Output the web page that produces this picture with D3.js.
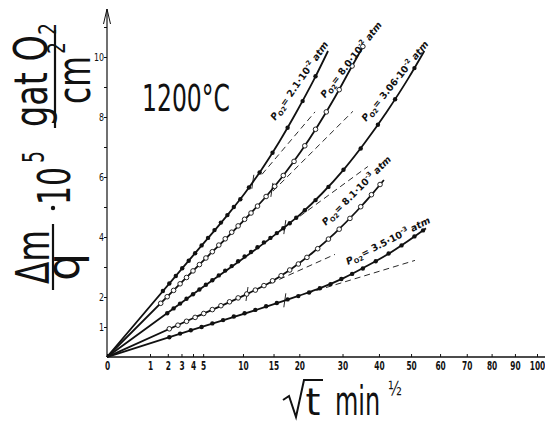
<!DOCTYPE html>
<html>
<head>
<meta charset="utf-8">
<script src="https://cdn.jsdelivr.net/npm/d3@7"></script>
<style>
  html, body { margin: 0; padding: 0; background: #fff; }
  svg { display: block; }
</style>
</head>
<body>
<div id="chart"></div>
<script>
// tick labels
const xTicks = [0, 1, 2, 3, 4, 5, 10, 15, 20, 30, 40, 50, 60, 70, 80, 90, 100];
const yTicks = [1, 2, 4, 6, 8, 10];
const yMinor = [1, 2, 3, 4, 5, 6, 7, 8, 9, 10, 11];

// oxygen pressures, one per curve
const pMant = ["2.1", "8.0", "3.06", "8.1", "3.5"];
const pExp = ["-2", "-2", "-2", "-3", "-3"];
const filled = [true, false, true, false, true];

// smooth curves [t, dm/q]
const curveA = [[0, 0], [4, 3.38], [7.84, 4.73], [10.24, 5.45], [12.96, 6.26], [16, 7.16], [19.36, 8.15], [23.04, 9.21], [26.42, 10.2]];
const curveB = [[0, 0], [4, 2.87], [10.89, 4.73], [13.69, 5.35], [16.81, 6.05], [20.25, 6.83], [24.01, 7.7], [28.09, 8.66], [32.49, 9.7], [35.7, 10.4]];
const curveC = [[0, 0], [4, 2.09], [16, 4.18], [20.25, 4.76], [25, 5.45], [30.25, 6.24], [36, 7.15], [42.25, 8.16], [49, 9.27], [54.46, 10.2]];
const curveD = [[0, 0], [4, 1.29], [10.89, 2.13], [14.44, 2.49], [18.49, 2.95], [23.04, 3.5], [28.09, 4.13], [33.64, 4.85], [38.44, 5.49], [41.47, 5.9]];
const curveE = [[0, 0], [4, 0.91], [19.36, 2.01], [25, 2.32], [30.25, 2.63], [36, 3.0], [42.25, 3.4], [49, 3.87], [55, 4.29]];

// measured points
const dotsA = [[1.69, 2.2], [2.1, 2.45], [2.56, 2.7], [3.06, 2.96], [3.61, 3.21], [4.2, 3.46], [4.84, 3.72], [5.52, 3.97], [6.25, 4.23], [7.02, 4.48], [7.84, 4.73], [8.7, 5.0], [9.61, 5.26], [10.89, 5.65], [12.6, 6.15], [14.82, 6.81], [17.64, 7.64], [20.7, 8.53], [23.52, 9.36]];
const dotsB = [[1.56, 1.79], [1.96, 2.01], [2.4, 2.22], [2.89, 2.44], [3.42, 2.65], [4.0, 2.87], [4.62, 3.08], [5.29, 3.3], [6.0, 3.51], [6.76, 3.73], [7.56, 3.94], [8.41, 4.16], [9.3, 4.37], [10.24, 4.59], [11.22, 4.8], [12.25, 5.03], [13.69, 5.35], [15.21, 5.69], [16.81, 6.05], [18.92, 6.52], [21.16, 7.04], [23.52, 7.59], [26.01, 8.17], [29.16, 8.91], [32.49, 9.7], [35.4, 10.35]];
const dotsC = [[1.96, 1.46], [2.4, 1.62], [2.89, 1.78], [3.42, 1.94], [4.0, 2.09], [4.62, 2.25], [5.29, 2.41], [6.0, 2.56], [6.76, 2.72], [7.56, 2.88], [8.41, 3.03], [9.3, 3.19], [10.24, 3.35], [11.22, 3.5], [12.25, 3.66], [13.32, 3.82], [14.44, 3.97], [15.6, 4.13], [16.81, 4.29], [18.06, 4.46], [19.36, 4.64], [21.16, 4.89], [23.52, 5.23], [26.52, 5.67], [30.25, 6.24], [34.81, 6.95], [39.69, 7.74], [44.89, 8.59], [51.12, 9.63]];
const dotsD = [[2.1, 0.94], [2.72, 1.06], [3.42, 1.19], [4.2, 1.32], [5.06, 1.45], [6.0, 1.58], [7.02, 1.71], [8.12, 1.84], [9.3, 1.97], [10.56, 2.1], [11.9, 2.23], [13.32, 2.38], [14.82, 2.54], [16.4, 2.71], [18.06, 2.9], [19.8, 3.1], [21.62, 3.32], [24.01, 3.61], [26.52, 3.93], [29.16, 4.26], [31.92, 4.62], [34.81, 5.01], [37.82, 5.41], [40.32, 5.75]];
const dotsE = [[2.1, 0.66], [2.89, 0.78], [3.8, 0.89], [4.84, 1.0], [6.0, 1.12], [7.29, 1.23], [8.7, 1.35], [10.24, 1.46], [11.9, 1.57], [13.69, 1.69], [15.6, 1.8], [17.64, 1.92], [19.8, 2.03], [22.09, 2.15], [24.5, 2.29], [27.04, 2.43], [29.7, 2.6], [32.49, 2.77], [35.4, 2.95], [39.06, 3.19], [42.9, 3.45], [46.92, 3.72], [51.12, 4.02], [54.02, 4.22]];

// parabolic extrapolation (dashed)
const dashA = [[13, 6.09], [23.4, 8.17]];
const dashB = [[14.9, 5.53], [32.7, 8.19]];
const dashC = [[20.1, 4.69], [36.8, 6.35]];
const dashD = [[14.4, 2.45], [28.1, 3.42]];
const dashE = [[21.6, 2.12], [51.3, 3.22]];

// short crossing strokes on each curve
const crossAt = [[11.5, 5.84], [14.7, 5.57], [17.1, 4.33], [10.6, 2.1], [17.1, 1.89]];
// label anchors (data units) and angles
const labelAt = [[15.3, 7.87], [25.7, 8.62], [36.3, 7.83], [25.9, 4.37], [31.4, 3.07]];
const labelAngle = [-55, -52, -51, -45, -27];

const W = 545, H = 425;
const svg = d3.select("#chart").append("svg").attr("width", W).attr("height", H)
  .attr("font-family", "DejaVu Sans");

const x = d3.scaleSqrt().domain([0, 100]).range([107, 537]);
const y = d3.scaleLinear().domain([0, 11.5]).range([357, 12]);

// axes
svg.append("line").attr("x1", x(0)).attr("x2", 545).attr("y1", y(0)).attr("y2", y(0))
  .attr("stroke", "#111").attr("stroke-width", 1.3);
svg.append("line").attr("x1", x(0)).attr("x2", x(0)).attr("y1", y(0)).attr("y2", 9)
  .attr("stroke", "#111").attr("stroke-width", 1.2);
svg.append("path").attr("d", "M103.5,24 L107,9 L110.5,24").attr("fill", "none")
  .attr("stroke", "#111").attr("stroke-width", 1);

const gx = svg.append("g").attr("transform", "translate(0," + y(0) + ")")
  .call(d3.axisBottom(x).tickValues(xTicks).tickSize(-3).tickPadding(4).tickFormat(d3.format("d")));
gx.select(".domain").remove();
gx.selectAll("text").attr("font-size", 12).attr("font-family", "DejaVu Sans")
  .attr("font-weight", "bold").attr("fill", "#111").attr("transform", "scale(0.62,1)");
gx.selectAll("line").attr("stroke", "#111");

const gyMinor = svg.append("g").attr("transform", "translate(" + x(0) + ",0)")
  .call(d3.axisLeft(y).tickValues(yMinor).tickSize(3).tickFormat(""));
gyMinor.select(".domain").remove();
gyMinor.selectAll("line").attr("stroke", "#111");

const gy = svg.append("g").attr("transform", "translate(" + x(0) + ",0)")
  .call(d3.axisLeft(y).tickValues(yTicks).tickSize(3).tickPadding(1).tickFormat(d3.format("d")));
gy.select(".domain").remove();
gy.selectAll("line").remove();
gy.selectAll("text").attr("font-size", 11).attr("font-family", "DejaVu Sans")
  .attr("fill", "#111").attr("transform", "scale(0.72,1)");

// curves
const series = [
  { line: curveA, dots: dotsA, dash: dashA },
  { line: curveB, dots: dotsB, dash: dashB },
  { line: curveC, dots: dotsC, dash: dashC },
  { line: curveD, dots: dotsD, dash: dashD },
  { line: curveE, dots: dotsE, dash: dashE }
];

const line = d3.line()
  .x(d => x(d[0]))
  .y(d => y(d[1]))
  .curve(d3.curveMonotoneX);

const plot = svg.append("g");
series.forEach((s, i) => {
  plot.append("path").attr("d", d3.line().x(d => x(d[0])).y(d => y(d[1]))(s.dash))
    .attr("fill", "none").attr("stroke", "#111").attr("stroke-width", 0.9)
    .attr("stroke-dasharray", "6,4");
  plot.append("path").attr("d", line(s.line))
    .attr("fill", "none").attr("stroke", "#111").attr("stroke-width", 1.8);
  plot.append("line")
    .attr("x1", x(crossAt[i][0]) - 1).attr("x2", x(crossAt[i][0]) + 1)
    .attr("y1", y(crossAt[i][1]) + 7).attr("y2", y(crossAt[i][1]) - 7)
    .attr("stroke", "#111").attr("stroke-width", 0.9);
  plot.selectAll(null).data(s.dots).enter().append("circle")
    .attr("cx", d => x(d[0])).attr("cy", d => y(d[1]))
    .attr("r", filled[i] ? 2.2 : 2.3)
    .attr("fill", filled[i] ? "#111" : "#fff")
    .attr("stroke", "#111").attr("stroke-width", filled[i] ? 0 : 0.9);

  const t = plot.append("text")
    .attr("transform", "translate(" + x(labelAt[i][0]) + "," + y(labelAt[i][1]) + ") rotate(" + labelAngle[i] + ")")
    .attr("font-size", 9.5).attr("font-weight", "bold").attr("fill", "#111");
  t.append("tspan").attr("font-style", "italic").text("P");
  t.append("tspan").attr("font-size", 6.5).attr("dy", 2.5).text("O2");
  t.append("tspan").attr("dy", -2.5).text("= " + pMant[i] + "·10");
  t.append("tspan").attr("font-size", 6.5).attr("dy", -4).text(pExp[i]);
  t.append("tspan").attr("dy", 4).attr("font-style", "italic").text(" atm");
});

// title
svg.append("text").attr("x", 142).attr("y", 111).attr("font-size", 38)
  .attr("textLength", 88).attr("lengthAdjust", "spacingAndGlyphs")
  .attr("fill", "#111").text("1200°C");

// y-axis label, drawn piece by piece (rotated)
function vText(str, bx, cy, size, len, anchor) {
  const t = svg.append("text")
    .attr("transform", "translate(" + bx + "," + cy + ") rotate(-90)")
    .attr("font-size", size).attr("fill", "#111")
    .attr("text-anchor", anchor || "middle").text(str);
  if (len) t.attr("textLength", len).attr("lengthAdjust", "spacingAndGlyphs");
  return t;
}
vText("Δm", 49, 257, 46, 54);
vText("q", 79, 267, 46, 28);
svg.append("line").attr("x1", 53).attr("x2", 53).attr("y1", 224).attr("y2", 290)
  .attr("stroke", "#111").attr("stroke-width", 2.2);
svg.append("circle").attr("cx", 53).attr("cy", 208).attr("r", 2.2).attr("fill", "#111");
vText("10", 70, 186, 44, 38);
vText("5", 44, 157, 30, 12);
vText("gat O", 47, 127, 46, 92, "start");
vText("2", 56, 35, 24, 12, "start");
svg.append("line").attr("x1", 55).attr("x2", 55).attr("y1", 30).attr("y2", 128)
  .attr("stroke", "#111").attr("stroke-width", 2.2);
vText("cm", 90, 104, 46, 48, "start");
vText("2", 65, 54, 24, 12, "start");

// x-axis label
svg.append("path").attr("d", "M283,400 L289,396 L296,417 L304,380 L323,380")
  .attr("fill", "none").attr("stroke", "#111").attr("stroke-width", 2);
svg.append("text").attr("x", 313).attr("y", 415).attr("text-anchor", "middle")
  .attr("font-size", 38).attr("fill", "#111").text("t");
svg.append("text").attr("transform", "translate(335,415) scale(0.6,1)")
  .attr("font-size", 40).attr("fill", "#111").text("min");
svg.append("text").attr("transform", "translate(388,395) scale(0.72,1)")
  .attr("font-size", 20).attr("fill", "#111").text("½");
</script>
</body>
</html>
